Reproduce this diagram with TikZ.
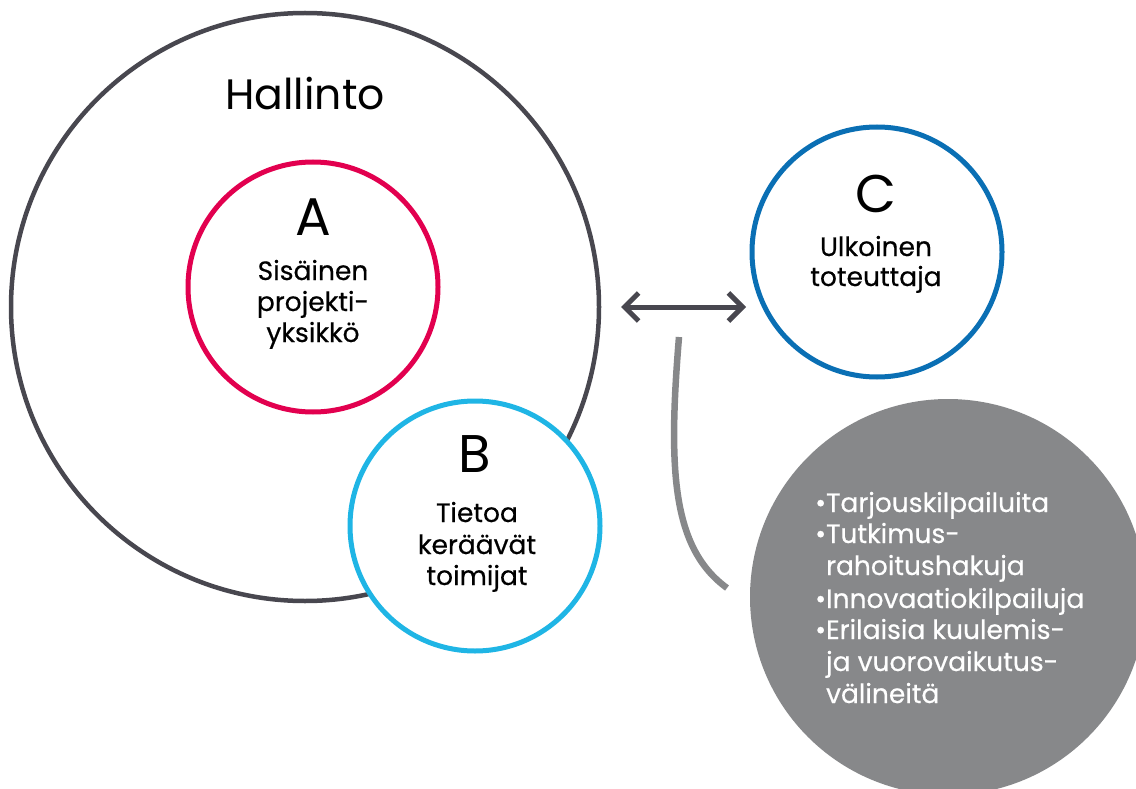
\documentclass[tikz,border=0pt]{standalone}
\usepackage{fontspec}
\setmainfont{Poppins}
\newfontfamily\labelfont{Poppins}[FakeBold=0.45]
\usetikzlibrary{arrows.meta}
\definecolor{ringdark}{HTML}{48474F}
\definecolor{ringred}{HTML}{E2004F}
\definecolor{ringlight}{HTML}{1FB5E5}
\definecolor{ringblue}{HTML}{0A6FB4}
\definecolor{greyfill}{HTML}{87888A}
\begin{document}
\begin{tikzpicture}[x=1pt,y=-1pt,
  ring/.style={circle, draw, line width=5pt, inner sep=0pt, minimum size=250pt, fill=white},
  bigletter/.style={anchor=base, inner sep=0pt, font=\fontsize{53}{53}\selectfont},
  label/.style={anchor=base, inner sep=0pt, font=\labelfont\fontsize{26.5}{26.5}\selectfont},
  bullet/.style={anchor=base west, inner sep=0pt, text=white, font=\labelfont\fontsize{26.5}{26.5}\selectfont}]
\useasboundingbox (0,0) rectangle (1136,789);
% main circle
\node[circle, draw=ringdark, line width=4.5pt, inner sep=0pt, minimum size=588pt] (hall) at (305,307) {};
\node[anchor=base, inner sep=0pt, font=\fontsize{42.5}{42.5}\selectfont] (halltxt) at (305,110) {Hallinto};
% A
\node[ring, draw=ringred] (A) at (313,287) {};
\node[bigletter] (Aletter) at (313,235) {A};
\node[label] (A1) at (313,280) {Sisäinen};
\node[label] (A2) at (313,311) {projekti-};
\node[label] (A3) at (313,342) {yksikkö};
% B
\node[ring, draw=ringlight] (B) at (475,526) {};
\node[bigletter] (Bletter) at (475,472) {B};
\node[label] (B1) at (477,522) {Tietoa};
\node[label] (B2) at (477,554) {keräävät};
\node[label] (B3) at (477,585) {toimijat};
% C
\node[ring, draw=ringblue] (C) at (877,252) {};
\node[bigletter] (Cletter) at (876,212) {C};
\node[label] (C1) at (876,256) {Ulkoinen};
\node[label] (C2) at (876,286) {toteuttaja};
% arrow
\coordinate (al) at (621,307);
\coordinate (ar) at (746,307);
\draw[ringdark, line width=5pt, {Straight Barb[length=14pt,width=28pt]}-{Straight Barb[length=14pt,width=28pt]}] (al) -- (ar);
% grey brace curve
\coordinate (g1) at (679,337);
\coordinate (g2) at (727,588);
\draw[greyfill, line width=6.5pt] (g1) .. controls (668,470) and (672,548) .. (g2);
% grey circle
\node[circle, fill=greyfill, inner sep=0pt, minimum size=396pt] (G) at (948,597) {};
\node[bullet] (L1) at (815,512) {•Tarjouskilpailuita};
\node[bullet] (L2) at (815,543) {•Tutkimus-};
\node[bullet] (L3) at (815,575) {\phantom{•}rahoitushakuja};
\node[bullet] (L4) at (815,608) {•Innovaatiokilpailuja};
\node[bullet] (L5) at (815,639) {•Erilaisia kuulemis-};
\node[bullet] (L6) at (815,671) {\phantom{•}ja vuorovaikutus-};
\node[bullet] (L7) at (815,703) {\phantom{•}välineitä};
\end{tikzpicture}
\end{document}
